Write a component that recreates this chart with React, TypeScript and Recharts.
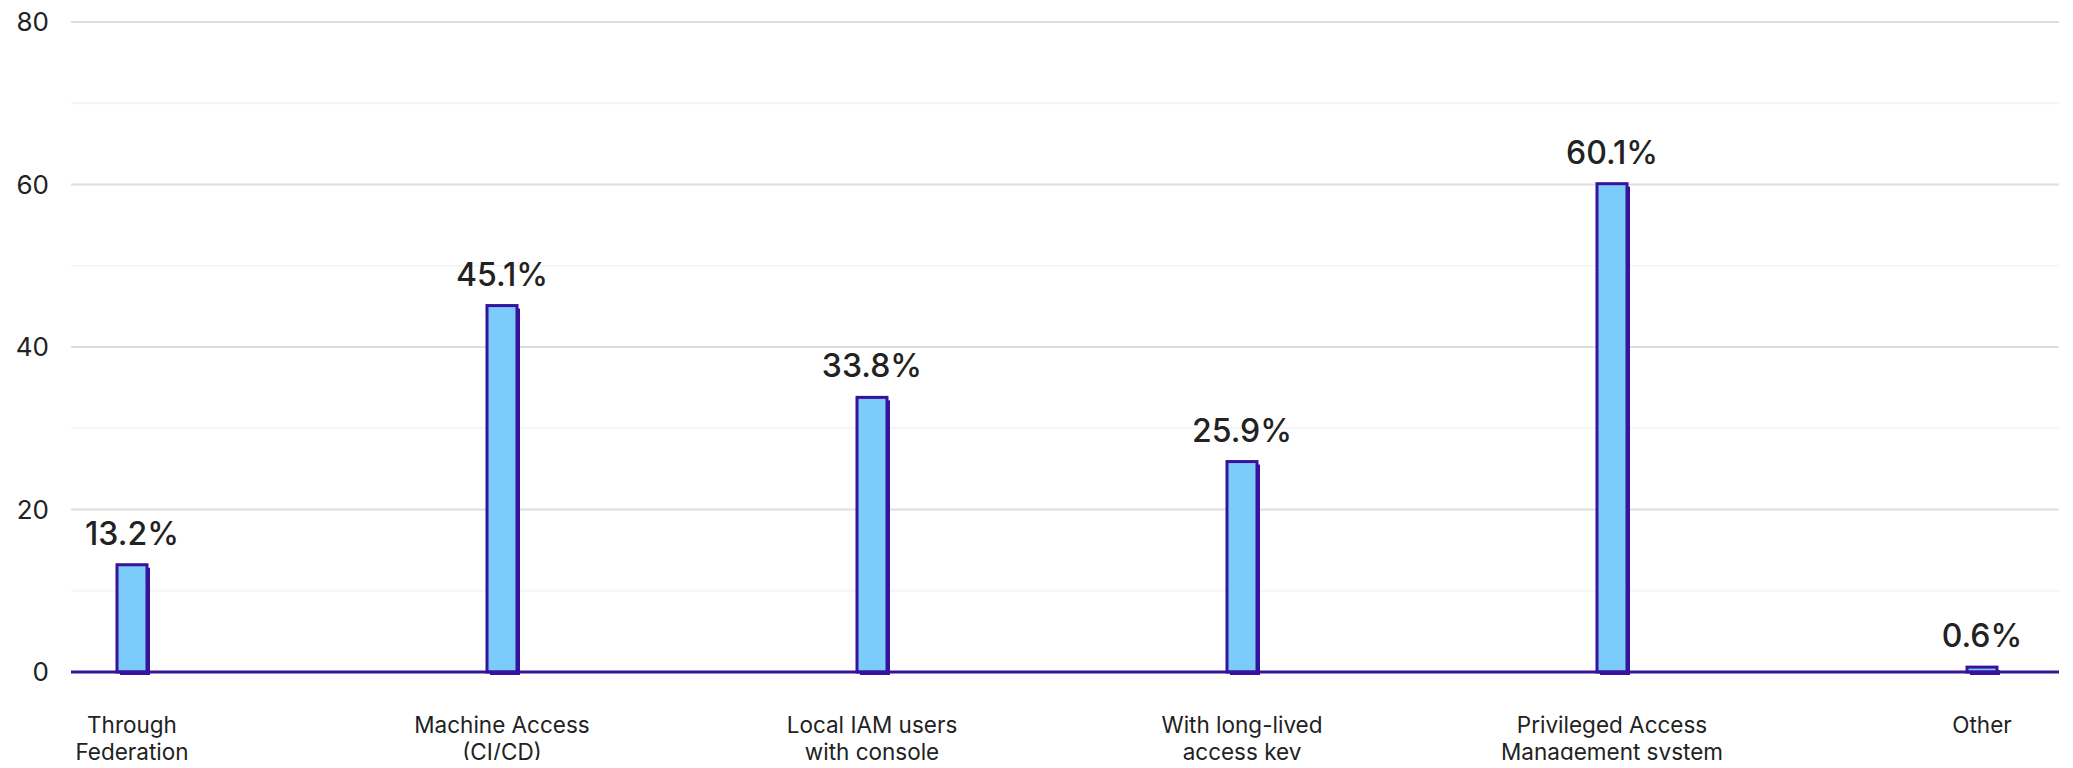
import React from "react";
import { BarChart, Bar, XAxis, YAxis, CartesianGrid, LabelList } from "recharts";

const categories = [
  ["Through", "Federation"],
  ["Machine Access", "(CI/CD)"],
  ["Local IAM users", "with console"],
  ["With long-lived", "access key"],
  ["Privileged Access", "Management system"],
  ["Other"],
];
const shares = [13.2, 45.1, 33.8, 25.9, 60.1, 0.6];
const yTicks = [0, 20, 40, 60, 80];
const minorLines = [10, 30, 50, 70];

const data = categories.map((lines, i) => ({ name: lines.join(" "), lines, value: shares[i] }));

const INK = "#37129c";
const FILL = "#7bcbfb";
const FONT = "Inter, 'Noto Sans', sans-serif";

function ShadowBar(props: any) {
  const { x, y, width, height } = props;
  if (height == null || width == null) return null;
  const h = Math.max(height, 0);
  return (
    <g>
      <rect x={x + 3} y={y + 3} width={width} height={h} fill={INK} />
      <rect x={x} y={y} width={width} height={h} fill={FILL} stroke={INK} strokeWidth={3} />
    </g>
  );
}

function CategoryTick(props: any) {
  const { x, y, payload } = props;
  const row = data.find((d) => d.name === payload.value);
  const lines = row ? row.lines : [String(payload.value)];
  return (
    <text x={x} y={y + 53} textAnchor="middle" fill="#222" fontSize={22.5} fontFamily={FONT}>
      {lines.map((l, i) => (
        <tspan key={i} x={x} dy={i === 0 ? 0 : 27}>
          {l}
        </tspan>
      ))}
    </text>
  );
}

function ValueLabel(props: any) {
  const { x, y, width, value } = props;
  return (
    <text x={x + width / 2} y={y - 20} textAnchor="middle" fill="#222" fontSize={32} fontWeight={500} fontFamily={FONT}>
      {`${value}%`}
    </text>
  );
}

export default function App() {
  // cancel the body margin so the chart fills the whole window
  return (
    <div style={{ margin: -8 }}>
      <BarChart
        width={2073}
        height={768}
        data={data}
        margin={{ top: 22, right: 14, bottom: 66, left: 8 }}
      >
        {/* faint half-step lines, then the labelled ones */}
        <CartesianGrid vertical={false} horizontalValues={minorLines} stroke="#f5f5f5" strokeWidth={2} />
        <CartesianGrid vertical={false} horizontalValues={yTicks} stroke="#dedede" strokeWidth={2} />
        <XAxis
          dataKey="name"
          interval={0}
          tickLine={false}
          axisLine={{ stroke: INK, strokeWidth: 3 }}
          padding={{ left: -124, right: -108 }}
          tick={<CategoryTick />}
        />
        <YAxis
          domain={[0, 80]}
          ticks={yTicks}
          width={63}
          axisLine={false}
          tickLine={false}
          tickMargin={16}
          tick={{ fill: "#222", fontSize: 26, fontFamily: FONT }}
        />
        <Bar dataKey="value" barSize={30} shape={<ShadowBar />} isAnimationActive={false}>
          <LabelList dataKey="value" content={<ValueLabel />} />
        </Bar>
      </BarChart>
    </div>
  );
}
